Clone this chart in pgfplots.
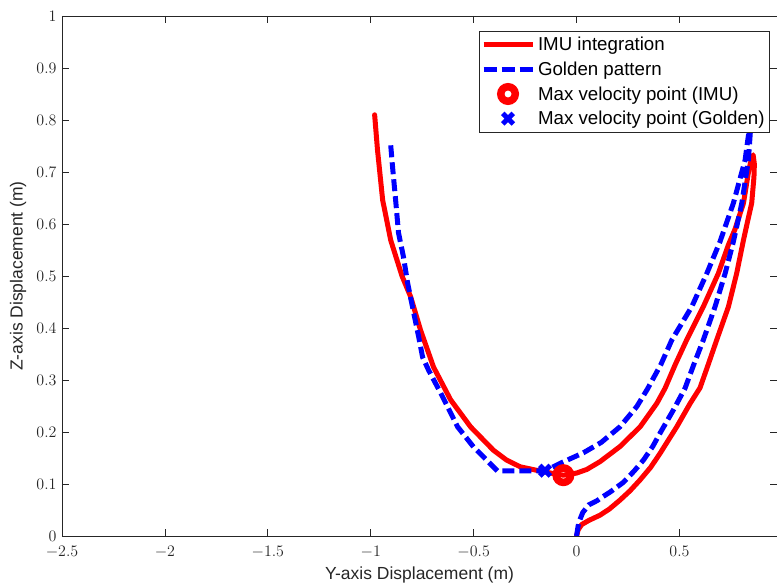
\RequirePackage{fix-cm}
\documentclass[border=0pt]{standalone}
\usepackage{fontspec}
\setmainfont{Liberation Sans}
\usepackage{pgfplots}
\pgfplotsset{compat=1.18}
\definecolor{axgray}{gray}{0.15}
\pgfplotsset{
  linelegend/.style={legend image code/.code={\draw[##1, line cap=butt] (0pt,0pt) -- (49pt,0pt);}},
  dashlegend/.style={legend image code/.code={\draw[##1, dash pattern=on 13pt off 5pt] (0pt,0pt) -- (49pt,0pt);}},
  marklegend/.style={legend image code/.code={\draw[##1] plot coordinates {(24.5pt,0pt)};}},
}

\begin{document}
\begin{tikzpicture}
\begin{axis}[
  scale only axis,
  width=715pt, height=520pt,
  xmin=-2.5, xmax=0.974,
  ymin=0, ymax=1,
  xtick={-2.5,-2,-1.5,-1,-0.5,0,0.5},
  ytick={0,0.1,0.2,0.3,0.4,0.5,0.6,0.7,0.8,0.9,1},
  axis line style={axgray, line width=0.8pt},
  tick style={axgray, line width=0.7pt},
  major tick length=7pt,
  tick label style={axgray, font=\fontsize{16}{16}\selectfont, inner sep=1pt},
  xticklabel style={yshift=-9.3pt},
  yticklabel style={xshift=-4.3pt},
  xlabel={Y-axis Displacement (m)},
  ylabel={Z-axis Displacement (m)},
  label style={axgray, font=\fontsize{17.5}{20}\selectfont},
  xlabel style={at={(axis description cs:0.5,-0.0846)}, anchor=base},
  ylabel style={at={(axis description cs:-0.0615,0.5)}, anchor=center},
  legend style={at={(0.9902,0.9712)}, anchor=north east,
    draw=axgray, line width=0.8pt, fill=white,
    font=\fontsize{18.7}{20}\selectfont,
    inner xsep=2pt, inner ysep=1pt,
    nodes={inner ysep=4.8pt, inner xsep=3pt}},
  legend cell align=left,
]
% IMU integration
\addplot[red, line width=5pt, line join=round, line cap=round, linelegend] coordinates {
  (0,0) (0.008,0.012) (0.025,0.022) (0.06,0.03) (0.114,0.04) (0.16,0.052)
  (0.211,0.069) (0.26,0.087) (0.309,0.108) (0.36,0.132) (0.406,0.159)
  (0.487,0.21) (0.552,0.255) (0.6,0.285) (0.64,0.33) (0.681,0.377)
  (0.738,0.441) (0.778,0.505) (0.811,0.569) (0.835,0.612) (0.851,0.64)
  (0.862,0.69) (0.864,0.715) (0.858,0.733) (0.85,0.725) (0.837,0.704)
  (0.811,0.64) (0.77,0.59) (0.738,0.56) (0.689,0.505) (0.616,0.441)
  (0.535,0.377) (0.48,0.33) (0.43,0.284) (0.39,0.255) (0.309,0.21)
  (0.211,0.172) (0.114,0.143) (0.05,0.128) (0,0.121) (-0.064,0.117)
  (-0.112,0.12) (-0.19,0.126) (-0.273,0.133) (-0.34,0.146) (-0.404,0.165)
  (-0.515,0.21) (-0.612,0.262) (-0.695,0.325) (-0.758,0.396) (-0.806,0.46)
  (-0.848,0.5) (-0.903,0.569) (-0.942,0.646) (-0.967,0.742) (-0.981,0.81)
};
% Golden pattern
\addplot[blue, line width=5pt, dash pattern=on 12pt off 5pt, dashlegend] coordinates {
  (0,0) (0.01,0.025) (0.03,0.045) (0.06,0.06) (0.1,0.068) (0.114,0.072)
  (0.165,0.085) (0.227,0.103) (0.28,0.125) (0.325,0.146) (0.37,0.172)
  (0.406,0.198) (0.47,0.242) (0.527,0.284) (0.57,0.33) (0.616,0.377)
  (0.673,0.441) (0.722,0.505) (0.762,0.566) (0.803,0.64) (0.835,0.723)
  (0.845,0.78)
  (0.835,0.77) (0.819,0.723) (0.762,0.64) (0.697,0.566) (0.633,0.505)
  (0.56,0.441) (0.463,0.377) (0.41,0.33) (0.345,0.283) (0.293,0.249)
  (0.211,0.21) (0.12,0.18) (0.033,0.16) (-0.078,0.14) (-0.153,0.125)
  (-0.384,0.125) (-0.5,0.171) (-0.578,0.21) (-0.66,0.275) (-0.719,0.319)
  (-0.748,0.344) (-0.767,0.383) (-0.791,0.429) (-0.821,0.487) (-0.841,0.537)
  (-0.865,0.583) (-0.879,0.646) (-0.894,0.71) (-0.903,0.752)
};
% Max velocity markers
\addplot[red, only marks, mark=o, mark size=7.25pt, line width=7.5pt, marklegend] coordinates {(-0.064,0.117)};
\addplot[blue, only marks, mark=x, mark size=7.5pt, line width=5pt, marklegend] coordinates {(-0.153,0.1256)};
\legend{IMU integration, Golden pattern, Max velocity point (IMU), Max velocity point (Golden)}
\end{axis}
\pgfresetboundingbox
\path[use as bounding box] ([xshift=-62pt,yshift=-47pt]current axis.south west) rectangle ([yshift=16pt]current axis.north east);
\end{tikzpicture}
\end{document}
